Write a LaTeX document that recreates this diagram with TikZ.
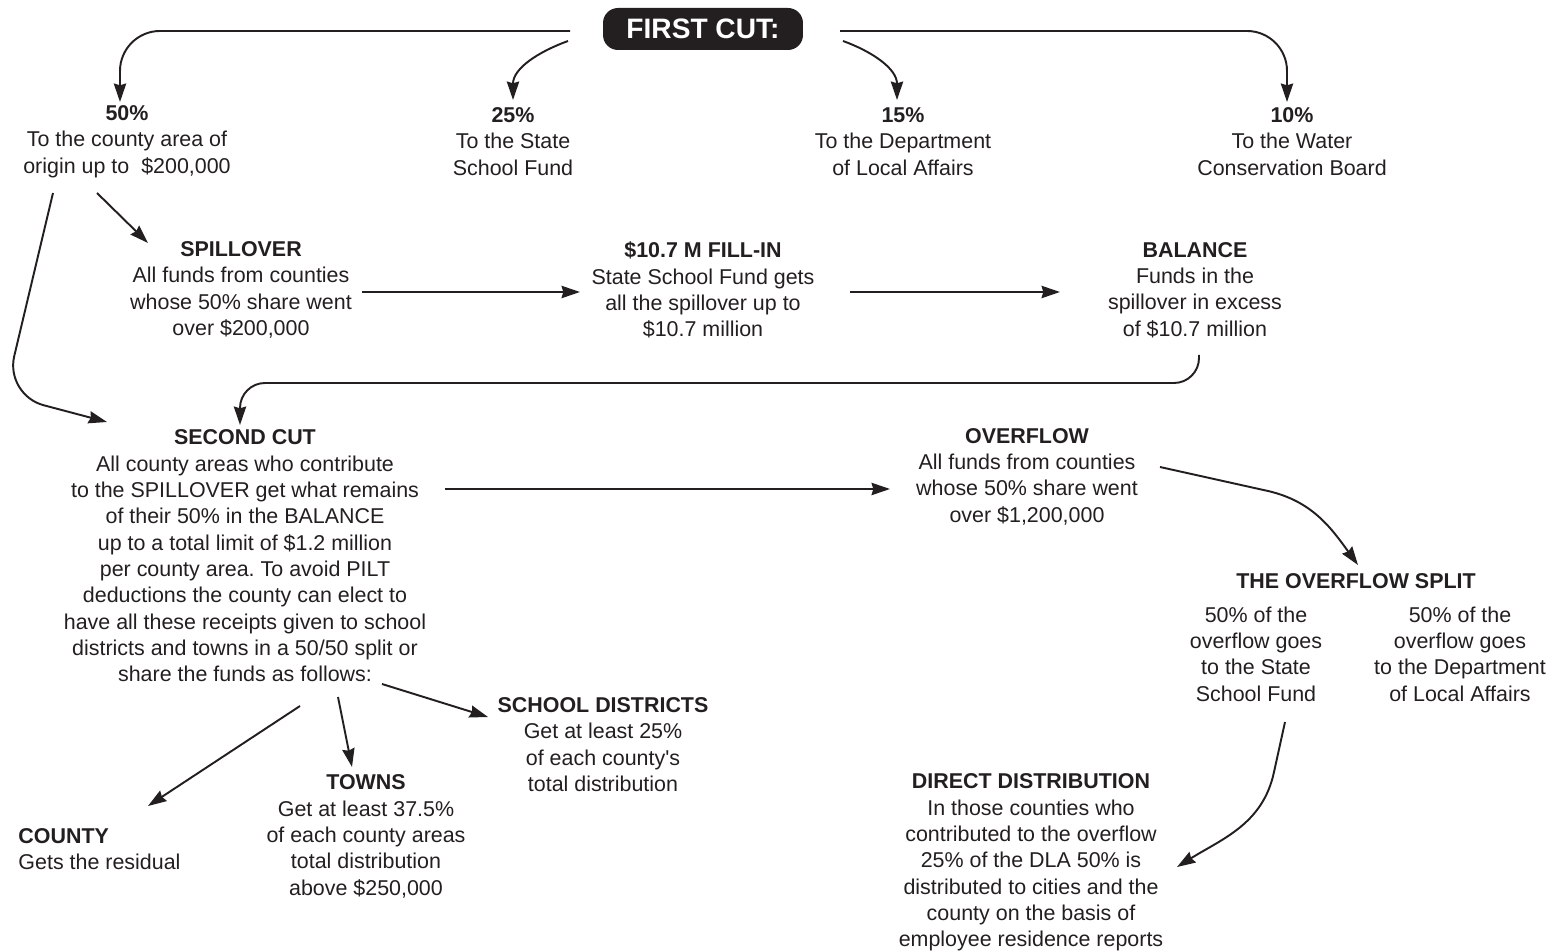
\documentclass[tikz,border=0pt]{standalone}
\usepackage{fontspec}
\setmainfont{Liberation Sans}
\usepackage{tikz}
\usetikzlibrary{arrows.meta,calc}
\definecolor{ink}{HTML}{231F20}
\frenchspacing
\tikzstyle{box}=[align=center,inner sep=0pt,outer sep=0pt,text=ink,font=\fontsize{12.2}{15}\selectfont]
\tikzstyle{cut}=[fill=ink,text=white,rounded corners=0.3cm,minimum width=4cm,minimum height=0.84cm,inner sep=0pt,font=\fontsize{16}{19}\selectfont\bfseries]
\tikzstyle{flow} = [draw=ink,line width=1.1pt,-{Stealth[length=10.5pt,width=7pt,inset=1pt]}]

\begin{document}
\begin{tikzpicture}[x=0.02cm,y=-0.02cm]
    \useasboundingbox (0,0) rectangle (1558,952);
    % The first cut and its four shares
    \node[cut] (firstcut) at (703,29) {FIRST CUT:};
    \foreach \pos/\name/\share/\body in {{(127,141.5)/fifty/50/{To the county area of\\origin up to \ \$200,000}},
        {(513,141.5)/twentyfive/25/{To the State\\School Fund}},
        {(903,141.5)/fifteen/15/{To the Department\\of Local Affairs}},
        {(1292,141.5)/ten/10/{To the Water\\Conservation Board}}}
        \node[box] (\name) at \pos {\textbf{\share\%}\\\body};
    % Spillover, fill-in and balance
    \node[box] (spill) at (241,290) {\textbf{SPILLOVER}\\All funds from counties\\whose 50\% share went\\over \$200,000};
    \node[box] (fillin) at (703,290) {\textbf{\$10.7 M FILL-IN}\\State School Fund gets\\all the spillover up to\\\$10.7 million};
    \node[box] (balance) at (1195,290) {\textbf{BALANCE}\\Funds in the\\spillover in excess\\of \$10.7 million};
    % Second cut and overflow
    \node[box] (second) at (245,556) {\textbf{SECOND CUT}\\All county areas who contribute\\to the SPILLOVER get what remains\\of their 50\% in the BALANCE\\up to a total limit of \$1.2 million\\per county area. To avoid PILT\\deductions the county can elect to\\have all these receipts given to school\\districts and towns in a 50/50 split or\\share the funds as follows:};
    \node[box] (overflow) at (1027,476.5) {\textbf{OVERFLOW}\\All funds from counties\\whose 50\% share went\\over \$1,200,000};
    \node[box] (split) at (1356,581) {\textbf{THE OVERFLOW SPLIT}};
    \node[box] (splitL) at (1256,654) {50\% of the\\overflow goes\\to the State\\School Fund};
    \node[box] (splitR) at (1460,654) {50\% of the\\overflow goes\\to the Department\\of Local Affairs};
    % Receivers at the bottom
    \node[box] (schools) at (603,744.5) {\textbf{SCHOOL DISTRICTS}\\Get at least 25\%\\of each county\textquotesingle s\\total distribution};
    \node[box] (towns) at (366,836.5) {\textbf{TOWNS}\\Get at least 37.5\%\\of each county areas\\total distribution\\above \$250,000};
    \node[box,align=left] (county) at (99.5,849) {\textbf{COUNTY}\\Gets the residual};
    \node[box] (direct) at (1031,862.5) {\textbf{DIRECT DISTRIBUTION}\\In those counties who\\contributed to the overflow\\25\% of the DLA 50\% is\\distributed to cities and the\\county on the basis of\\employee residence reports};
    % Arrows out of the first cut
    \draw[flow,rounded corners=0.8cm] ($(firstcut)+(-133,2)$) -| ($(fifty)+(-7,-39.5)$);
    \draw[flow] ($(firstcut)+(-135,12)$) to[out=200,in=90] ($(twentyfive)+(0,-41.5)$);
    \draw[flow] ($(firstcut)+(140,12)$) to[out=-20,in=90] ($(fifteen)+(-6,-41.5)$);
    \draw[flow,rounded corners=0.8cm] ($(firstcut)+(137,2)$) -| ($(ten)+(-5,-39.5)$);
    % Spillover chain
    \draw[flow] ($(fifty)+(-30,51.5)$) -- ($(spill)+(-93,-47)$);
    \draw[flow] ($(spill)+(121,2)$) -- ($(fillin)+(-123,2)$);
    \draw[flow] ($(fillin)+(147,2)$) -- ($(balance)+(-135,2)$);
    \draw[flow,rounded corners=0.8cm] ($(fifty)+(-74,51.5)$) -- ($(second)+(-240,-161)$) -- ($(second)+(-138,-134)$);
    \draw[flow,rounded corners=0.5cm] ($(balance)+(4,65)$) |- ($(second)+(-5,-173)$) -- ($(second)+(-5,-131)$);
    % Second cut and overflow
    \draw[flow] ($(second)+(200,-67)$) -- ($(overflow)+(-137,12.5)$);
    \draw[flow] ($(overflow)+(133,-9.5)$) -- ($(overflow)+(241,14.5)$) to[out=-13,in=126] ($(split)+(2,-16)$);
    \draw[flow] ($(splitL)+(29,68)$) -- ($(splitL)+(18,118)$) to[out=-102,in=32] ($(direct)+(146,4.5)$);
    \draw[flow] ($(second)+(55,150)$) -- ($(county)+(48.5,-43)$);
    \draw[flow] ($(second)+(93,141)$) -- ($(towns)+(-14,-69.5)$);
    \draw[flow] ($(second)+(137,128)$) -- ($(schools)+(-115,-27.5)$);
\end{tikzpicture}
\end{document}
